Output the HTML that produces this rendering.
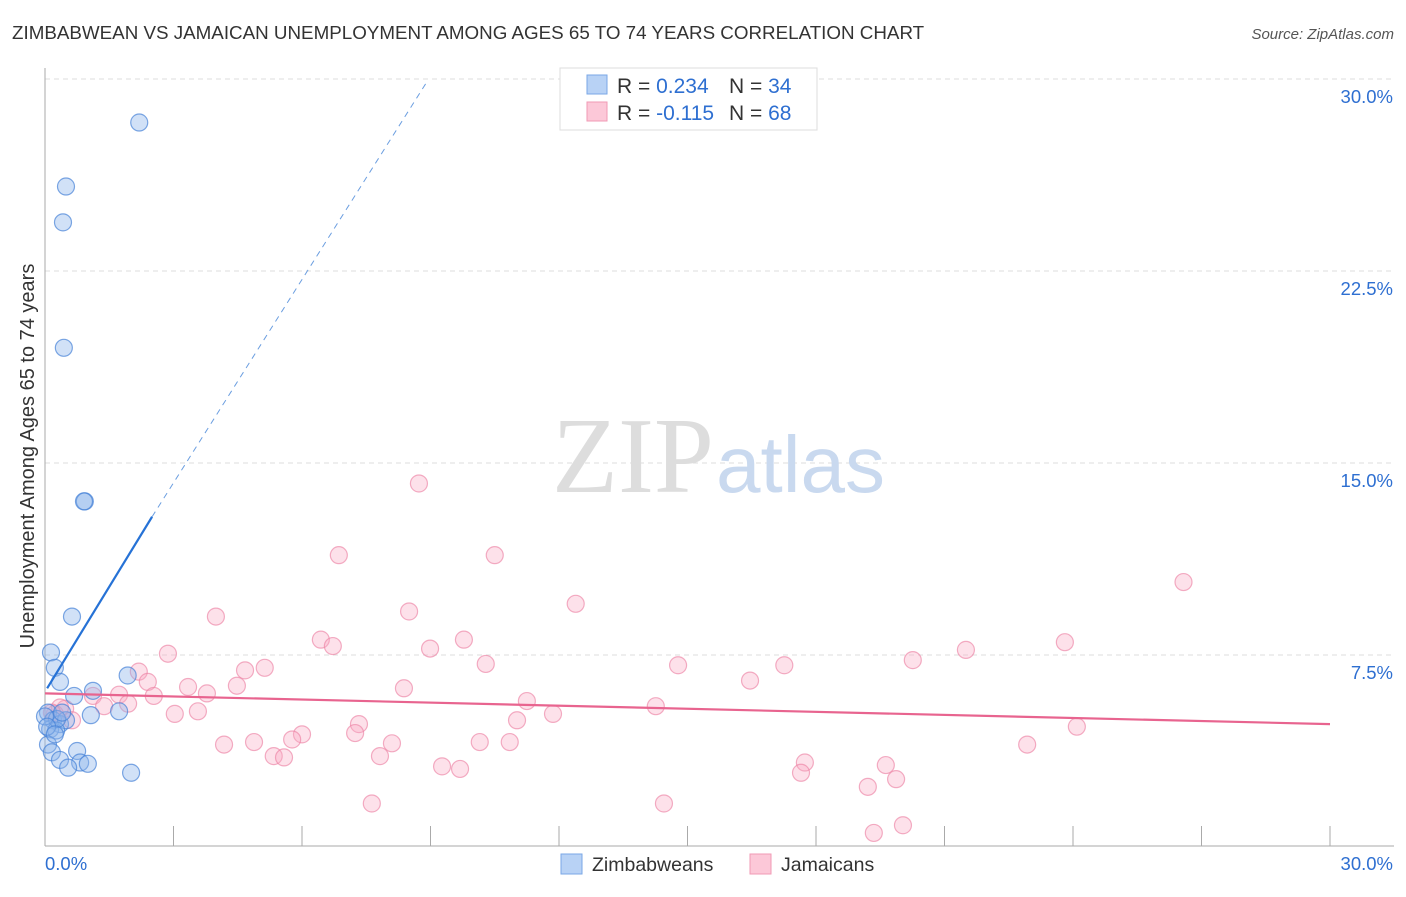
<!DOCTYPE html>
<html><head><meta charset="utf-8"><style>
body{margin:0;background:#fff;font-family:"Liberation Sans",sans-serif;}
</style></head><body>
<svg id="chart" width="1406" height="892" xmlns="http://www.w3.org/2000/svg">
<text x="12" y="39" font-size="18.8" fill="#333">ZIMBABWEAN VS JAMAICAN UNEMPLOYMENT AMONG AGES 65 TO 74 YEARS CORRELATION CHART</text>
<text x="1394" y="39" font-size="15" fill="#555" font-style="italic" text-anchor="end">Source: ZipAtlas.com</text>
<g id="grid"></g>
<text x="714" y="492" font-size="108" fill="#ddd" text-anchor="end" font-family="Liberation Serif">ZIP</text>
<text x="716" y="492" font-size="80" fill="#c9d9ef">atlas</text>
<line x1="45" y1="68" x2="45" y2="846" stroke="#aaa"/>
<line x1="45" y1="846" x2="1394" y2="846" stroke="#aaa"/>
<text transform="translate(34,456) rotate(-90)" font-size="20" fill="#333" text-anchor="middle">Unemployment Among Ages 65 to 74 years</text>
<g id="marks"></g>
<g>
<rect x="560" y="68" width="257" height="62" fill="#fff" stroke="#ddd"/>
<rect x="587" y="75" width="20" height="19" fill="#b8d2f5" stroke="#7aa7e6"/>
<rect x="587" y="102" width="20" height="19" fill="#fcc8d8" stroke="#f09ab5"/>
<text x="617" y="93" font-size="21" fill="#333">R = <tspan fill="#2e6fd1">0.234</tspan><tspan x="729">N = </tspan><tspan fill="#2e6fd1">34</tspan></text>
<text x="617" y="120" font-size="21" fill="#333">R = <tspan fill="#2e6fd1">-0.115</tspan><tspan x="729">N = </tspan><tspan fill="#2e6fd1">68</tspan></text>
</g>
<g>
<rect x="561" y="854" width="21" height="20" fill="#b8d2f5" stroke="#7aa7e6"/>
<text x="592" y="871" font-size="19.5" fill="#333">Zimbabweans</text>
<rect x="750" y="854" width="21" height="20" fill="#fcc8d8" stroke="#f09ab5"/>
<text x="781" y="871" font-size="19.5" fill="#333">Jamaicans</text>
</g>
</svg>
<script>
const yTicks=[7.5,15,22.5,30];
const yTickLabels=["7.5%","15.0%","22.5%","30.0%"];
const xTickLabels=["0.0%","30.0%"];
const blueX=[2.2,0.49,0.42,0.44,0.93,0.91,0.63,0.14,0.23,0.35,1.12,1.93,0.68,1.73,1.07,0.07,0.19,0.35,0.49,0.12,0.26,0.07,0.16,0.35,0.75,0.82,1.00,0.54,2.01,0.28,0.40,0.0,0.05,0.23];
const blueY=[28.3,25.8,24.4,19.5,13.5,13.5,9.0,7.6,7.0,6.45,6.1,6.7,5.9,5.3,5.15,5.25,4.95,4.8,4.95,4.6,4.55,4.0,3.7,3.4,3.75,3.3,3.25,3.1,2.9,5.0,5.25,5.1,4.7,4.4];
const pinkX=[8.73,6.86,10.50,26.58,12.39,8.50,3.99,6.44,6.72,9.78,8.99,23.81,21.50,2.87,20.26,10.29,14.78,17.26,5.13,4.67,2.19,2.40,16.46,3.34,3.78,4.48,8.38,2.54,1.73,1.12,11.25,14.26,3.57,1.94,1.38,3.03,11.86,11.02,7.33,24.09,7.24,6.00,5.77,4.18,4.88,8.10,10.15,10.85,22.93,7.82,5.34,5.58,17.74,19.63,9.27,9.69,17.65,19.87,19.21,7.63,14.45,20.03,19.35,0.47,0.23,0.63,0.35,0.16];
const pinkY=[14.2,11.4,11.4,10.35,9.5,9.2,9.0,8.1,7.85,8.1,7.75,8.0,7.7,7.55,7.3,7.15,7.1,7.1,7.0,6.9,6.85,6.45,6.5,6.25,6.0,6.3,6.2,5.9,5.95,5.9,5.7,5.5,5.3,5.6,5.5,5.2,5.2,4.95,4.8,4.7,4.45,4.4,4.2,4.0,4.1,4.05,4.1,4.1,4.0,3.55,3.55,3.5,3.3,3.2,3.15,3.05,2.9,2.65,2.35,1.7,1.7,0.85,0.55,5.4,5.2,4.95,5.45,5.25];
const blueLine=[0.05,6.2,2.5,12.9,8.92,29.9];
const pinkLine=[0,6.0,30,4.8];
const X=v=>45+v/30*1285, Y=v=>847-v/7.5*192;
const NS="http://www.w3.org/2000/svg";
function mk(t,a,p){const e=document.createElementNS(NS,t);for(const k in a)e.setAttribute(k,a[k]);p.appendChild(e);return e;}
const g=document.getElementById('grid'), m=document.getElementById('marks');
yTicks.forEach((v,i)=>{
 const l=mk('line',{x1:45,x2:1394,y1:Y(v),y2:Y(v),stroke:'#ddd','stroke-dasharray':'5,4'},g);
 
 
 const t=mk('text',{x:1393,y:Y(v)+24,'font-size':18.5,fill:'#2e6fd1','text-anchor':'end'},g);t.textContent=yTickLabels[i];
 
 
});
for(let i=0;i<=10;i++){const l=mk('line',{x1:X(i*3),x2:X(i*3),y1:826,y2:846,stroke:'#aaa'},g);
 
 }
[[0,45,'start'],[30,1393,'end']].forEach((d,i)=>{const t=mk('text',{x:d[1],y:870,'font-size':18.5,fill:'#2e6fd1','text-anchor':d[2]},g);t.textContent=xTickLabels[i];
 
 });
pinkX.forEach((x,i)=>{const c=mk('circle',{cx:X(x),cy:Y(pinkY[i]),r:8.5,fill:'rgba(248,170,195,0.35)',stroke:'rgba(236,130,165,0.65)','stroke-width':1.2},m);
 
 });
blueX.forEach((x,i)=>{const c=mk('circle',{cx:X(x),cy:Y(blueY[i]),r:8.5,fill:'rgba(140,180,235,0.4)',stroke:'rgba(70,130,215,0.7)','stroke-width':1.2},m);
 
 });
let l=mk('line',{x1:X(blueLine[0]),y1:Y(blueLine[1]),x2:X(blueLine[2]),y2:Y(blueLine[3]),stroke:'#2672d6','stroke-width':2.2},m);


l=mk('line',{x1:X(blueLine[2]),y1:Y(blueLine[3]),x2:X(blueLine[4]),y2:Y(blueLine[5]),stroke:'#6b9ee0','stroke-width':1,'stroke-dasharray':'6,5'},m);


l=mk('line',{x1:X(pinkLine[0]),y1:Y(pinkLine[1]),x2:X(pinkLine[2]),y2:Y(pinkLine[3]),stroke:'#e8648f','stroke-width':2.2},m);


</script>
</body></html>
